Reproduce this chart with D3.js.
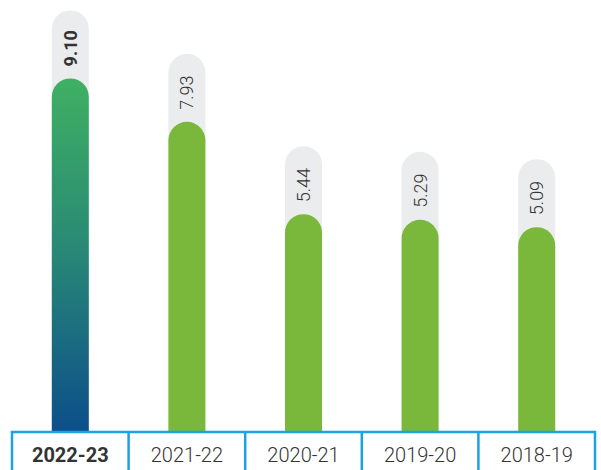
<!DOCTYPE html>
<html>
<head>
<meta charset="utf-8">
<script src="https://cdn.jsdelivr.net/npm/d3@7"></script>
<style>
  body { margin: 0; background: #fff; }
  text { font-family: Roboto, "DejaVu Sans", sans-serif; fill: #333; }
</style>
</head>
<body>
<div id="chart"></div>
<script>
var width = 601, height = 470;
var margin = {left: 12, right: 6, axisTop: 432};

var years = ["2022-23", "2021-22", "2020-21", "2019-20", "2018-19"];
var values = [9.10, 7.93, 5.44, 5.29, 5.09];
var labels = ["9.10", "7.93", "5.44", "5.29", "5.09"];

var barW = 37, pillExtra = 68;

var svg = d3.select("#chart").append("svg")
    .attr("width", width)
    .attr("height", height);

var defs = svg.append("defs");
var grad = defs.append("linearGradient")
    .attr("id", "hl")
    .attr("x1", 0).attr("y1", 0).attr("x2", 0).attr("y2", 1);
grad.append("stop").attr("offset", "0%").attr("stop-color", "#3fb062");
grad.append("stop").attr("offset", "45%").attr("stop-color", "#2a8c74");
grad.append("stop").attr("offset", "100%").attr("stop-color", "#0c4e8a");

var x = d3.scaleBand()
    .domain(years)
    .range([margin.left, width - margin.right])
    .padding(0);

// bars start a little below the scale's zero, down to the axis box
var y = d3.scaleLinear().domain([0, 10]).range([416, 416 - 371]);

function roundTop(cx, top, bottom, w) {
    var r = w / 2, p = d3.path();
    p.moveTo(cx - r, bottom);
    p.lineTo(cx - r, top + r);
    p.arc(cx, top + r, r, Math.PI, 0);
    p.lineTo(cx + r, bottom);
    p.closePath();
    return p.toString();
}

var g = svg.selectAll(".bar")
    .data(years)
    .enter()
    .append("g")
    .attr("class", "bar");

// grey pill behind
g.append("path")
    .attr("d", function(d, i) {
        var cx = x(d) + x.bandwidth() / 2;
        return roundTop(cx, y(values[i]) - pillExtra, margin.axisTop, barW);
    })
    .attr("fill", "#ebeced");

// value bar
g.append("path")
    .attr("d", function(d, i) {
        var cx = x(d) + x.bandwidth() / 2;
        return roundTop(cx, y(values[i]), margin.axisTop, barW);
    })
    .attr("fill", function(d, i) { return i == 0 ? "url(#hl)" : "#7ab83b"; });

// rotated value labels
g.append("text")
    .attr("transform", function(d, i) {
        var cx = x(d) + x.bandwidth() / 2;
        return "translate(" + (cx + 6.5) + "," + (y(values[i]) - 12) + ") rotate(-90)";
    })
    .attr("text-anchor", "start")
    .style("font-size", "18px")
    .style("font-weight", function(d, i) { return i == 0 ? 700 : 300; })
    .text(function(d, i) { return labels[i]; });

// axis box
var axis = svg.append("g");
axis.append("rect")
    .attr("x", margin.left)
    .attr("y", margin.axisTop)
    .attr("width", width - margin.right - margin.left)
    .attr("height", 60)
    .attr("fill", "#fff")
    .attr("stroke", "#1aa3e3")
    .attr("stroke-width", 2.5);

axis.selectAll(".div")
    .data(years.slice(1))
    .enter()
    .append("line")
    .attr("x1", function(d) { return x(d); })
    .attr("x2", function(d) { return x(d); })
    .attr("y1", margin.axisTop)
    .attr("y2", height + 5)
    .attr("stroke", "#1aa3e3")
    .attr("stroke-width", 2.5);

axis.selectAll(".lab")
    .data(years)
    .enter()
    .append("text")
    .attr("x", function(d) { return x(d) + x.bandwidth() / 2; })
    .attr("y", 462)
    .attr("text-anchor", "middle")
    .style("font-size", "20px")
    .style("font-weight", function(d, i) { return i == 0 ? 700 : 300; })
    .text(function(d) { return d; });
</script>
</body>
</html>
